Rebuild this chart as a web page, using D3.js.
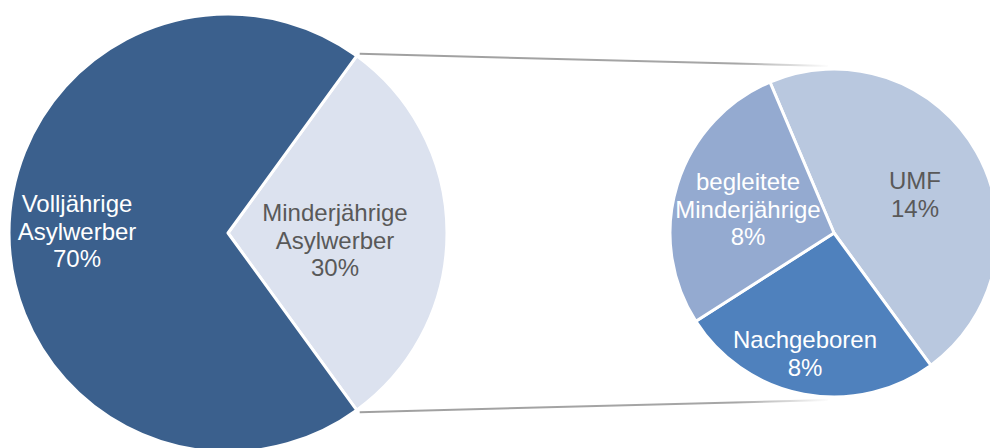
<!DOCTYPE html>
<html>
<head>
<meta charset="utf-8">
<script src="https://cdn.jsdelivr.net/npm/d3@7"></script>
<style>
  html, body { margin: 0; padding: 0; background: #ffffff; }
  svg { display: block; }
  text { font-family: "Liberation Sans", Arial, sans-serif; }
</style>
</head>
<body>
<svg id="chart" width="990" height="448"></svg>
<script>
// ---- data ----
const mainCategories = ["Minderjährige Asylwerber", "Volljährige Asylwerber"];
const mainValues = [30, 70];
const subCategories = ["UMF", "Nachgeboren", "begleitete Minderjährige"];
const subValues = [13.9, 7.8, 8.3];

// ---- layout & style (not data) ----
const W = 990, H = 448;
const big = { cx: 228, cy: 233, r: 219, start: 36 };
const small = { cx: 834, cy: 233, r: 164, start: -23 };
const mainColors = ["#DCE2EF", "#3B608D"];
const subColors = ["#B9C8DF", "#4F81BD", "#94AAD0"];
const mainText = ["#595959", "#ffffff"];
const subText = ["#595959", "#ffffff", "#ffffff"];
const mainLabelPos = [[107, -12], [-151, -21]];   // top baseline offset from pie center
const subLabelPos = [[81, -44], [-29, 115], [-86, -43]];
const fontSize = 24, lineH = 27.6;

const svg = d3.select("#chart");
const rad = d => d * Math.PI / 180;

function drawPie(cfg, cats, vals, colors, textColors, labelPos) {
  const pie = d3.pie().sort(null).value(d => d.v)
    .startAngle(rad(cfg.start)).endAngle(rad(cfg.start + 360));
  const arcs = pie(cats.map((c, i) => ({ c, v: vals[i], i })));
  const arc = d3.arc().innerRadius(0).outerRadius(cfg.r);
  const g = svg.append("g").attr("transform", `translate(${cfg.cx},${cfg.cy})`);
  g.selectAll("path").data(arcs).join("path")
    .attr("d", arc)
    .attr("fill", d => colors[d.index])
    .attr("stroke", "#ffffff")
    .attr("stroke-width", 3)
    .attr("stroke-linejoin", "round");
  arcs.forEach((a, i) => {
    const words = a.data.c.split(" ");
    const lines = words.concat([Math.round(a.data.v) + "%"]);
    const t = g.append("text")
      .attr("text-anchor", "middle")
      .attr("fill", textColors[i])
      .attr("font-size", fontSize);
    lines.forEach((ln, k) => {
      t.append("tspan").attr("x", labelPos[i][0]).attr("y", labelPos[i][1] + k * lineH).text(ln);
    });
  });
  return arcs;
}

// connector lines (drawn first so pies sit on top)
const defs = svg.append("defs");
const grad = defs.append("linearGradient").attr("id", "fade")
  .attr("gradientUnits", "userSpaceOnUse")
  .attr("x1", 360).attr("y1", 0).attr("x2", 830).attr("y2", 0);
grad.append("stop").attr("offset", "0%").attr("stop-color", "#A0A0A0");
grad.append("stop").attr("offset", "80%").attr("stop-color", "#A6A6A6");
grad.append("stop").attr("offset", "100%").attr("stop-color", "#ffffff");

const aTop = rad(big.start), aBot = rad(big.start + 360 * mainValues[0] / d3.sum(mainValues));
const p1 = [big.cx + big.r * Math.sin(aTop) + 3, big.cy - big.r * Math.cos(aTop) - 2];
const p2 = [big.cx + big.r * Math.sin(aBot) + 3, big.cy - big.r * Math.cos(aBot) + 2];
const q1 = [small.cx - 6, small.cy - small.r - 3];
const q2 = [small.cx - 6, small.cy + small.r + 3];
svg.append("line").attr("x1", p1[0]).attr("y1", p1[1]).attr("x2", q1[0]).attr("y2", q1[1])
  .attr("stroke", "url(#fade)").attr("stroke-width", 2);
svg.append("line").attr("x1", p2[0]).attr("y1", p2[1]).attr("x2", q2[0]).attr("y2", q2[1])
  .attr("stroke", "url(#fade)").attr("stroke-width", 2);

drawPie(big, mainCategories, mainValues, mainColors, mainText, mainLabelPos);
drawPie(small, subCategories, subValues, subColors, subText, subLabelPos);
</script>
</body>
</html>
